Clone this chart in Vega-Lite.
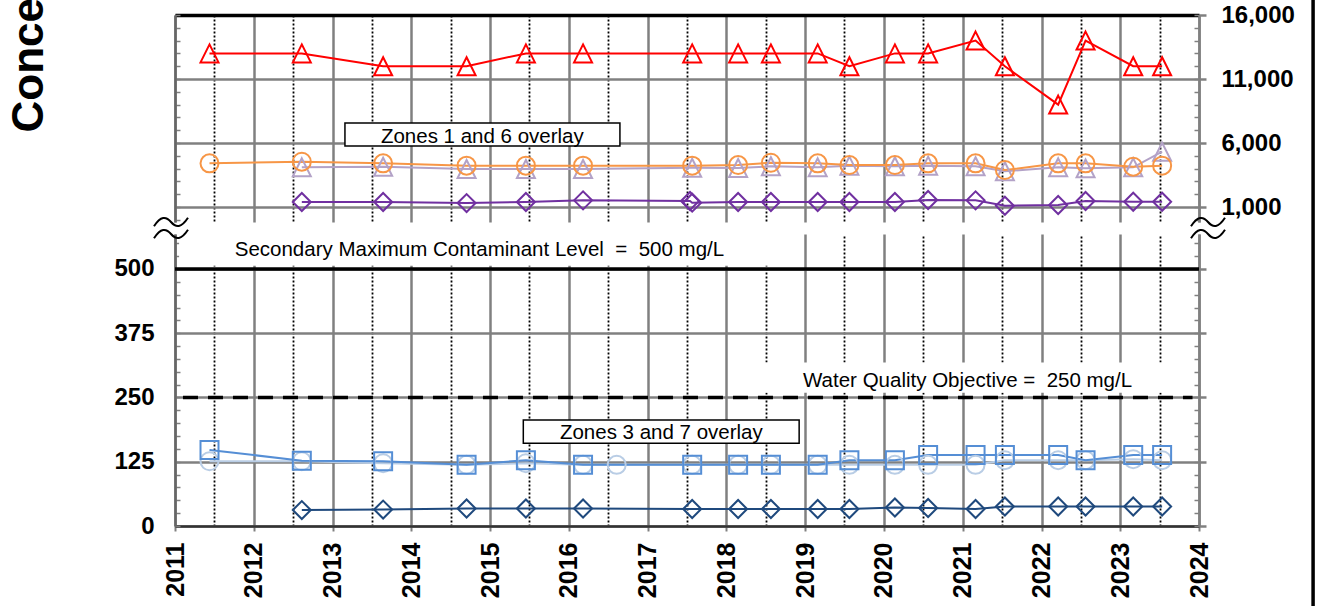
{
  "$schema": "https://vega.github.io/schema/vega-lite/v6.json",
  "autosize": {"type": "none"},
  "padding": {"left": 175, "top": 15, "right": 1144, "bottom": 591},
  "background": "white",
  "config": {
    "font": "Liberation Sans",
    "view": {"stroke": null},
    "axis": {"labelFont": "Liberation Sans", "titleFont": "Liberation Sans"}
  },
  "spacing": 12,
  "bounds": "flush",
  "resolve": {"scale": {"color": "independent", "shape": "independent"}},
  "datasets": {
    "upper": [
      {"date": "2012-08-11", "series": "Zone 6", "value": 4100},
      {"date": "2013-08-23", "series": "Zone 6", "value": 4150},
      {"date": "2014-09-14", "series": "Zone 6", "value": 3970},
      {"date": "2015-06-16", "series": "Zone 6", "value": 3970},
      {"date": "2016-03-07", "series": "Zone 6", "value": 3970},
      {"date": "2017-07-26", "series": "Zone 6", "value": 4070},
      {"date": "2018-02-24", "series": "Zone 6", "value": 4050},
      {"date": "2018-07-26", "series": "Zone 6", "value": 4180},
      {"date": "2019-02-28", "series": "Zone 6", "value": 4100},
      {"date": "2019-07-25", "series": "Zone 6", "value": 4230},
      {"date": "2020-02-21", "series": "Zone 6", "value": 4180},
      {"date": "2020-07-24", "series": "Zone 6", "value": 4230},
      {"date": "2021-03-01", "series": "Zone 6", "value": 4180},
      {"date": "2021-07-15", "series": "Zone 6", "value": 3790},
      {"date": "2022-03-19", "series": "Zone 6", "value": 4100},
      {"date": "2022-07-24", "series": "Zone 6", "value": 4020},
      {"date": "2023-03-02", "series": "Zone 6", "value": 4100},
      {"date": "2023-07-14", "series": "Zone 6", "value": 5320},
      {"date": "2011-06-10", "series": "Zone 1", "value": 4410},
      {"date": "2012-08-11", "series": "Zone 1", "value": 4540},
      {"date": "2013-08-23", "series": "Zone 1", "value": 4410},
      {"date": "2014-09-14", "series": "Zone 1", "value": 4230},
      {"date": "2015-06-16", "series": "Zone 1", "value": 4230},
      {"date": "2016-03-07", "series": "Zone 1", "value": 4230},
      {"date": "2017-07-26", "series": "Zone 1", "value": 4230},
      {"date": "2018-02-24", "series": "Zone 1", "value": 4280},
      {"date": "2018-07-26", "series": "Zone 1", "value": 4460},
      {"date": "2019-02-28", "series": "Zone 1", "value": 4410},
      {"date": "2019-07-25", "series": "Zone 1", "value": 4280},
      {"date": "2020-02-21", "series": "Zone 1", "value": 4280},
      {"date": "2020-07-24", "series": "Zone 1", "value": 4410},
      {"date": "2021-03-01", "series": "Zone 1", "value": 4410},
      {"date": "2021-07-15", "series": "Zone 1", "value": 3890},
      {"date": "2022-03-19", "series": "Zone 1", "value": 4410},
      {"date": "2022-07-24", "series": "Zone 1", "value": 4410},
      {"date": "2023-03-02", "series": "Zone 1", "value": 4150},
      {"date": "2023-07-14", "series": "Zone 1", "value": 4230},
      {"date": "2012-08-11", "series": "Zone 5", "value": 1390},
      {"date": "2013-08-23", "series": "Zone 5", "value": 1390},
      {"date": "2014-09-14", "series": "Zone 5", "value": 1310},
      {"date": "2015-06-16", "series": "Zone 5", "value": 1390},
      {"date": "2016-03-07", "series": "Zone 5", "value": 1520},
      {"date": "2017-07-16", "series": "Zone 5", "value": 1470},
      {"date": "2017-07-26", "series": "Zone 5", "value": 1340},
      {"date": "2018-02-24", "series": "Zone 5", "value": 1390},
      {"date": "2018-07-26", "series": "Zone 5", "value": 1390},
      {"date": "2019-02-28", "series": "Zone 5", "value": 1390},
      {"date": "2019-07-25", "series": "Zone 5", "value": 1390},
      {"date": "2020-02-21", "series": "Zone 5", "value": 1390},
      {"date": "2020-07-24", "series": "Zone 5", "value": 1550},
      {"date": "2021-03-01", "series": "Zone 5", "value": 1520},
      {"date": "2021-07-15", "series": "Zone 5", "value": 1100},
      {"date": "2022-03-19", "series": "Zone 5", "value": 1160},
      {"date": "2022-07-24", "series": "Zone 5", "value": 1470},
      {"date": "2023-03-02", "series": "Zone 5", "value": 1410},
      {"date": "2023-07-14", "series": "Zone 5", "value": 1410},
      {"date": "2011-06-10", "series": "Zone 2", "value": 13000},
      {"date": "2012-08-11", "series": "Zone 2", "value": 13000},
      {"date": "2013-08-23", "series": "Zone 2", "value": 12000},
      {"date": "2014-09-14", "series": "Zone 2", "value": 12000},
      {"date": "2015-06-16", "series": "Zone 2", "value": 13000},
      {"date": "2016-03-07", "series": "Zone 2", "value": 13000},
      {"date": "2017-07-26", "series": "Zone 2", "value": 13000},
      {"date": "2018-02-24", "series": "Zone 2", "value": 13000},
      {"date": "2018-07-26", "series": "Zone 2", "value": 13000},
      {"date": "2019-02-28", "series": "Zone 2", "value": 13000},
      {"date": "2019-07-25", "series": "Zone 2", "value": 12000},
      {"date": "2020-02-21", "series": "Zone 2", "value": 13000},
      {"date": "2020-07-24", "series": "Zone 2", "value": 13000},
      {"date": "2021-03-01", "series": "Zone 2", "value": 14000},
      {"date": "2021-07-15", "series": "Zone 2", "value": 12000},
      {"date": "2022-03-19", "series": "Zone 2", "value": 9000},
      {"date": "2022-07-24", "series": "Zone 2", "value": 14000},
      {"date": "2023-03-02", "series": "Zone 2", "value": 12000},
      {"date": "2023-07-14", "series": "Zone 2", "value": 12000}
    ],
    "lower": [
      {"date": "2011-06-10", "series": "Zone 7", "value": 126},
      {"date": "2012-08-11", "series": "Zone 7", "value": 126},
      {"date": "2013-08-23", "series": "Zone 7", "value": 122},
      {"date": "2014-09-14", "series": "Zone 7", "value": 119},
      {"date": "2015-06-16", "series": "Zone 7", "value": 122},
      {"date": "2016-03-07", "series": "Zone 7", "value": 119},
      {"date": "2016-08-10", "series": "Zone 7", "value": 119},
      {"date": "2017-07-26", "series": "Zone 7", "value": 119},
      {"date": "2018-02-24", "series": "Zone 7", "value": 119},
      {"date": "2018-07-26", "series": "Zone 7", "value": 119},
      {"date": "2019-02-28", "series": "Zone 7", "value": 119},
      {"date": "2019-07-25", "series": "Zone 7", "value": 119},
      {"date": "2020-02-21", "series": "Zone 7", "value": 119},
      {"date": "2020-07-24", "series": "Zone 7", "value": 119},
      {"date": "2021-03-01", "series": "Zone 7", "value": 119},
      {"date": "2021-07-15", "series": "Zone 7", "value": 128},
      {"date": "2022-03-19", "series": "Zone 7", "value": 128},
      {"date": "2022-07-24", "series": "Zone 7", "value": 128},
      {"date": "2023-03-02", "series": "Zone 7", "value": 130},
      {"date": "2023-07-14", "series": "Zone 7", "value": 128},
      {"date": "2011-06-10", "series": "Zone 3", "value": 148},
      {"date": "2012-08-11", "series": "Zone 3", "value": 127},
      {"date": "2013-08-23", "series": "Zone 3", "value": 126},
      {"date": "2014-09-14", "series": "Zone 3", "value": 119},
      {"date": "2015-06-16", "series": "Zone 3", "value": 128},
      {"date": "2016-03-07", "series": "Zone 3", "value": 119},
      {"date": "2017-07-26", "series": "Zone 3", "value": 119},
      {"date": "2018-02-24", "series": "Zone 3", "value": 119},
      {"date": "2018-07-26", "series": "Zone 3", "value": 119},
      {"date": "2019-02-28", "series": "Zone 3", "value": 119},
      {"date": "2019-07-25", "series": "Zone 3", "value": 128},
      {"date": "2020-02-21", "series": "Zone 3", "value": 128},
      {"date": "2020-07-24", "series": "Zone 3", "value": 138},
      {"date": "2021-03-01", "series": "Zone 3", "value": 138},
      {"date": "2021-07-15", "series": "Zone 3", "value": 138},
      {"date": "2022-03-19", "series": "Zone 3", "value": 138},
      {"date": "2022-07-24", "series": "Zone 3", "value": 128},
      {"date": "2023-03-02", "series": "Zone 3", "value": 138},
      {"date": "2023-07-14", "series": "Zone 3", "value": 138},
      {"date": "2012-08-11", "series": "Zone 4", "value": 31},
      {"date": "2013-08-23", "series": "Zone 4", "value": 32},
      {"date": "2014-09-14", "series": "Zone 4", "value": 34},
      {"date": "2015-06-16", "series": "Zone 4", "value": 34},
      {"date": "2016-03-07", "series": "Zone 4", "value": 34},
      {"date": "2017-07-26", "series": "Zone 4", "value": 33},
      {"date": "2018-02-24", "series": "Zone 4", "value": 33},
      {"date": "2018-07-26", "series": "Zone 4", "value": 33},
      {"date": "2019-02-28", "series": "Zone 4", "value": 33},
      {"date": "2019-07-25", "series": "Zone 4", "value": 33},
      {"date": "2020-02-21", "series": "Zone 4", "value": 36},
      {"date": "2020-07-24", "series": "Zone 4", "value": 35},
      {"date": "2021-03-01", "series": "Zone 4", "value": 33},
      {"date": "2021-07-15", "series": "Zone 4", "value": 38},
      {"date": "2022-03-19", "series": "Zone 4", "value": 38},
      {"date": "2022-07-24", "series": "Zone 4", "value": 38},
      {"date": "2023-03-02", "series": "Zone 4", "value": 38},
      {"date": "2023-07-14", "series": "Zone 4", "value": 38}
    ]
  },
  "vconcat": [
    {
      "width": 1024,
      "height": 207,
      "layer": [
        {
          "data": {"name": "upper"},
          "mark": {"type": "line", "strokeWidth": 2},
          "encoding": {
            "x": {"field": "date", "type": "temporal",
              "scale": {"domain": [{"year": 2011, "month": 1, "date": 1}, {"year": 2024, "month": 1, "date": 1}]},
              "axis": {"orient": "top", "values": [{"year": 2011}, {"year": 2012}, {"year": 2013}, {"year": 2014}, {"year": 2015}, {"year": 2016}, {"year": 2017}, {"year": 2018}, {"year": 2019}, {"year": 2020}, {"year": 2021}, {"year": 2022}, {"year": 2023}, {"year": 2024}],
                "grid": true, "gridColor": "#808080", "gridWidth": 2.5, "ticks": false, "labels": false, "domainColor": "black", "domainWidth": 3.5, "title": null}},
            "y": {"field": "value", "type": "quantitative",
              "scale": {"domain": [-170, 16000], "nice": false, "zero": false},
              "axis": {"orient": "left", "values": [0, 1000, 2000, 3000, 4000, 5000, 6000, 7000, 8000, 9000, 10000, 11000, 12000, 13000, 14000, 15000, 16000],
                "grid": false, "labels": false, "tickSize": -5, "tickColor": "#808080", "tickWidth": 1.5, "domainColor": "#666666", "domainWidth": 2.5,
                "title": "Concentration (mg/L)", "titleFontSize": 44, "titleFontWeight": "bold", "titleColor": "black", "titleAngle": 270, "titleAlign": "left", "titleBaseline": "alphabetic", "titleX": -133, "titleY": 117}},
            "color": {"field": "series", "type": "nominal", "scale": {"domain": ["Zone 6", "Zone 1", "Zone 5", "Zone 2"], "range": ["#B3A2C7", "#F79646", "#7030A0", "#FF0000"]}, "legend": null}
          }
        },
        {
          "data": {"name": "upper"},
          "mark": {"type": "point", "filled": false, "strokeWidth": 2, "size": 324, "opacity": 1},
          "encoding": {
            "x": {"field": "date", "type": "temporal",
              "scale": {"domain": [{"year": 2011, "month": 1, "date": 1}, {"year": 2024, "month": 1, "date": 1}]},
              "axis": {"orient": "bottom", "values": [{"year": 2011, "month": 7, "date": 2}, {"year": 2012, "month": 7, "date": 2}, {"year": 2013, "month": 7, "date": 2}, {"year": 2014, "month": 7, "date": 2}, {"year": 2015, "month": 7, "date": 2}, {"year": 2016, "month": 7, "date": 2}, {"year": 2017, "month": 7, "date": 2}, {"year": 2018, "month": 7, "date": 2}, {"year": 2019, "month": 7, "date": 2}, {"year": 2020, "month": 7, "date": 2}, {"year": 2021, "month": 7, "date": 2}, {"year": 2022, "month": 7, "date": 2}, {"year": 2023, "month": 7, "date": 2}],
                "grid": true, "gridColor": "black", "gridDash": [2, 2], "gridWidth": 1.8, "ticks": false, "labels": false, "domain": false, "title": null}},
            "y": {"field": "value", "type": "quantitative",
              "scale": {"domain": [-170, 16000], "nice": false, "zero": false},
              "axis": {"orient": "right", "values": [1000, 6000, 11000, 16000], "format": ",.0f",
                "grid": true, "gridColor": "#808080", "gridWidth": 2.5, "tickSize": 7, "tickColor": "#808080", "tickWidth": 2.5,
                "domainColor": "#808080", "domainWidth": 2.5, "labelFontSize": 24, "labelFontWeight": "bold", "labelColor": "black", "labelPadding": 15, "title": null}},
            "color": {"field": "series", "type": "nominal", "scale": {"domain": ["Zone 6", "Zone 1", "Zone 5", "Zone 2"], "range": ["#B3A2C7", "#F79646", "#7030A0", "#FF0000"]}, "legend": null},
            "shape": {"field": "series", "type": "nominal", "scale": {"domain": ["Zone 6", "Zone 1", "Zone 5", "Zone 2"], "range": ["M0,-1L1,1L-1,1Z", "circle", "diamond", "M0,-1L1,1L-1,1Z"]}, "legend": null}
          }
        },
        {
          "data": {"values": [{}]},
          "mark": {"type": "rect", "fill": "white", "stroke": "black", "strokeWidth": 1.5},
          "encoding": {
            "x": {"datum": {"year": 2013, "month": 2, "date": 27}, "type": "temporal", "scale": {"domain": [{"year": 2011, "month": 1, "date": 1}, {"year": 2024, "month": 1, "date": 1}]}, "axis": null},
            "x2": {"datum": {"year": 2016, "month": 8, "date": 25}},
            "y": {"datum": 7562, "type": "quantitative", "scale": {"domain": [-170, 16000], "nice": false, "zero": false},
              "axis": {"orient": "right", "values": [0, 1000, 2000, 3000, 4000, 5000, 6000, 7000, 8000, 9000, 10000, 11000, 12000, 13000, 14000, 15000, 16000],
                "tickSize": -5, "tickColor": "#808080", "tickWidth": 1.5, "labels": false, "domain": false, "grid": false, "title": null}},
            "y2": {"datum": 5766}
          }
        },
        {
          "data": {"values": [{}]},
          "mark": {"type": "text", "text": "Zones 1 and 6 overlay", "font": "Liberation Sans", "fontSize": 20.5, "align": "center", "baseline": "alphabetic", "color": "black"},
          "encoding": {
            "x": {"datum": {"year": 2014, "month": 11, "date": 26}, "type": "temporal", "scale": {"domain": [{"year": 2011, "month": 1, "date": 1}, {"year": 2024, "month": 1, "date": 1}]}, "axis": null},
            "y": {"datum": 6023, "type": "quantitative", "scale": {"domain": [-170, 16000], "nice": false, "zero": false}, "axis": null}
          }
        },
        {
          "data": {"values": [{}]},
          "mark": {"type": "point", "shape": "M-1,0.25C-0.6,-0.35,-0.3,-0.35,0,0C0.3,0.35,0.6,0.35,1,-0.25", "size": 1156, "filled": false, "stroke": "black", "strokeWidth": 2, "opacity": 1, "xOffset": -4},
          "encoding": {
            "x": {"datum": {"year": 2011, "month": 1, "date": 1}, "type": "temporal", "scale": {"domain": [{"year": 2011, "month": 1, "date": 1}, {"year": 2024, "month": 1, "date": 1}]}, "axis": null},
            "y": {"datum": -170, "type": "quantitative", "scale": {"domain": [-170, 16000], "nice": false, "zero": false}, "axis": null}
          }
        },
        {
          "data": {"values": [{}]},
          "mark": {"type": "point", "shape": "M-1,0.25C-0.6,-0.35,-0.3,-0.35,0,0C0.3,0.35,0.6,0.35,1,-0.25", "size": 1156, "filled": false, "stroke": "black", "strokeWidth": 2, "opacity": 1, "xOffset": 9},
          "encoding": {
            "x": {"datum": {"year": 2024, "month": 1, "date": 1}, "type": "temporal", "scale": {"domain": [{"year": 2011, "month": 1, "date": 1}, {"year": 2024, "month": 1, "date": 1}]}, "axis": null},
            "y": {"datum": -170, "type": "quantitative", "scale": {"domain": [-170, 16000], "nice": false, "zero": false}, "axis": null}
          }
        }
      ],
      "resolve": {"axis": {"x": "independent", "y": "independent"}}
    },
    {
      "width": 1024,
      "height": 292,
      "layer": [
        {
          "data": {"values": [{}]},
          "mark": {"type": "rect", "fill": "white"},
          "encoding": {
            "x": {"datum": {"year": 2011, "month": 1, "date": 20}, "type": "temporal", "scale": {"domain": [{"year": 2011, "month": 1, "date": 1}, {"year": 2024, "month": 1, "date": 1}]}, "axis": null},
            "x2": {"datum": {"year": 2018, "month": 9, "date": 5}},
            "y": {"datum": 506, "type": "quantitative", "scale": {"domain": [0, 568], "nice": false, "zero": false},
              "axis": {"orient": "left", "values": [0, 25, 50, 75, 100, 125, 150, 175, 200, 225, 250, 275, 300, 325, 350, 375, 400, 425, 450, 475, 500, 525, 550],
                "tickSize": -5, "tickColor": "#808080", "tickWidth": 1.5, "labels": false, "domain": false, "grid": false, "title": null}},
            "y2": {"datum": 568}
          }
        },
        {
          "data": {"values": [{}]},
          "mark": {"type": "rect", "fill": "white"},
          "encoding": {
            "x": {"datum": {"year": 2018, "month": 6, "date": 3}, "type": "temporal", "scale": {"domain": [{"year": 2011, "month": 1, "date": 1}, {"year": 2024, "month": 1, "date": 1}]}, "axis": null},
            "x2": {"datum": {"year": 2023, "month": 10, "date": 3}},
            "y": {"datum": 259, "type": "quantitative", "scale": {"domain": [0, 568], "nice": false, "zero": false},
              "axis": {"orient": "right", "values": [0, 25, 50, 75, 100, 125, 150, 175, 200, 225, 250, 275, 300, 325, 350, 375, 400, 425, 450, 475, 500, 525, 550],
                "tickSize": -5, "tickColor": "#808080", "tickWidth": 1.5, "labels": false, "domain": false, "grid": false, "title": null}},
            "y2": {"datum": 318}
          }
        },
        {
          "data": {"values": [{}]},
          "mark": {"type": "rule", "color": "black", "strokeWidth": 3.5},
          "encoding": {
            "y": {"datum": 500, "type": "quantitative", "scale": {"domain": [0, 568], "nice": false, "zero": false}, "axis": null}
          }
        },
        {
          "data": {"values": [{}]},
          "mark": {"type": "rule", "color": "black", "strokeWidth": 3.5, "strokeDash": [15, 10]},
          "encoding": {
            "x": {"datum": {"year": 2011, "month": 2, "date": 7}, "type": "temporal", "scale": {"domain": [{"year": 2011, "month": 1, "date": 1}, {"year": 2024, "month": 1, "date": 1}]}, "axis": null},
            "x2": {"datum": {"year": 2023, "month": 12, "date": 2}},
            "y": {"datum": 250, "type": "quantitative", "scale": {"domain": [0, 568], "nice": false, "zero": false}, "axis": null}
          }
        },
        {
          "data": {"values": [{}]},
          "mark": {"type": "text", "text": "Secondary Maximum Contaminant Level \u00a0=\u00a0 500 mg/L", "font": "Liberation Sans", "fontSize": 20.5, "align": "left", "baseline": "alphabetic", "color": "black"},
          "encoding": {
            "x": {"datum": {"year": 2011, "month": 10, "date": 5}, "type": "temporal", "scale": {"domain": [{"year": 2011, "month": 1, "date": 1}, {"year": 2024, "month": 1, "date": 1}]}, "axis": null},
            "y": {"datum": 526, "type": "quantitative", "scale": {"domain": [0, 568], "nice": false, "zero": false}, "axis": null}
          }
        },
        {
          "data": {"values": [{}]},
          "mark": {"type": "text", "text": "Water Quality Objective =\u00a0 250 mg/L", "font": "Liberation Sans", "fontSize": 20.5, "align": "left", "baseline": "alphabetic", "color": "black"},
          "encoding": {
            "x": {"datum": {"year": 2018, "month": 12, "date": 22}, "type": "temporal", "scale": {"domain": [{"year": 2011, "month": 1, "date": 1}, {"year": 2024, "month": 1, "date": 1}]}, "axis": null},
            "y": {"datum": 271, "type": "quantitative", "scale": {"domain": [0, 568], "nice": false, "zero": false}, "axis": null}
          }
        },
        {
          "data": {"values": [{}]},
          "mark": {"type": "rect", "fill": "white", "stroke": "black", "strokeWidth": 1.5},
          "encoding": {
            "x": {"datum": {"year": 2015, "month": 6, "date": 4}, "type": "temporal", "scale": {"domain": [{"year": 2011, "month": 1, "date": 1}, {"year": 2024, "month": 1, "date": 1}]}, "axis": null},
            "x2": {"datum": {"year": 2018, "month": 12, "date": 4}},
            "y": {"datum": 206, "type": "quantitative", "scale": {"domain": [0, 568], "nice": false, "zero": false}, "axis": null},
            "y2": {"datum": 161}
          }
        },
        {
          "data": {"values": [{}]},
          "mark": {"type": "text", "text": "Zones 3 and 7 overlay", "font": "Liberation Sans", "fontSize": 20.5, "align": "center", "baseline": "alphabetic", "color": "black"},
          "encoding": {
            "x": {"datum": {"year": 2017, "month": 3, "date": 5}, "type": "temporal", "scale": {"domain": [{"year": 2011, "month": 1, "date": 1}, {"year": 2024, "month": 1, "date": 1}]}, "axis": null},
            "y": {"datum": 168.7, "type": "quantitative", "scale": {"domain": [0, 568], "nice": false, "zero": false}, "axis": null}
          }
        },
        {
          "data": {"name": "lower"},
          "mark": {"type": "line", "strokeWidth": 2},
          "encoding": {
            "x": {"field": "date", "type": "temporal",
              "scale": {"domain": [{"year": 2011, "month": 1, "date": 1}, {"year": 2024, "month": 1, "date": 1}]},
              "axis": {"orient": "bottom", "values": [{"year": 2011}, {"year": 2012}, {"year": 2013}, {"year": 2014}, {"year": 2015}, {"year": 2016}, {"year": 2017}, {"year": 2018}, {"year": 2019}, {"year": 2020}, {"year": 2021}, {"year": 2022}, {"year": 2023}, {"year": 2024}],
                "format": "%Y", "labelAngle": 270, "labelFontSize": 25, "labelFontWeight": "bold", "labelColor": "black", "labelPadding": 11, "labelFlush": false, "labelOverlap": false,
                "tickSize": 5, "tickColor": "#808080", "tickWidth": 2, "domainColor": "#333333", "domainWidth": 2.5,
                "grid": true, "gridColor": "#808080", "gridWidth": 2.5, "title": null}},
            "y": {"field": "value", "type": "quantitative",
              "scale": {"domain": [0, 568], "nice": false, "zero": false},
              "axis": {"orient": "left", "values": [0, 125, 250, 375, 500], "ticks": false, "tickSize": 0, "labelFontSize": 24, "labelFontWeight": "bold", "labelColor": "black", "labelPadding": 21,
                "domainColor": "#666666", "domainWidth": 2.5, "grid": true, "gridColor": "#808080", "gridWidth": 2.5, "title": null}},
            "color": {"field": "series", "type": "nominal", "scale": {"domain": ["Zone 7", "Zone 3", "Zone 4"], "range": ["#B9CDE5", "#558ED5", "#1F497D"]}, "legend": null}
          }
        },
        {
          "data": {"name": "lower"},
          "mark": {"type": "point", "filled": false, "strokeWidth": 2, "size": 324, "opacity": 1},
          "encoding": {
            "x": {"field": "date", "type": "temporal",
              "scale": {"domain": [{"year": 2011, "month": 1, "date": 1}, {"year": 2024, "month": 1, "date": 1}]},
              "axis": {"orient": "top", "values": [{"year": 2011, "month": 7, "date": 2}, {"year": 2012, "month": 7, "date": 2}, {"year": 2013, "month": 7, "date": 2}, {"year": 2014, "month": 7, "date": 2}, {"year": 2015, "month": 7, "date": 2}, {"year": 2016, "month": 7, "date": 2}, {"year": 2017, "month": 7, "date": 2}, {"year": 2018, "month": 7, "date": 2}, {"year": 2019, "month": 7, "date": 2}, {"year": 2020, "month": 7, "date": 2}, {"year": 2021, "month": 7, "date": 2}, {"year": 2022, "month": 7, "date": 2}, {"year": 2023, "month": 7, "date": 2}],
                "grid": true, "gridColor": "black", "gridDash": [2, 2], "gridWidth": 1.8, "ticks": false, "labels": false, "domain": false, "title": null}},
            "y": {"field": "value", "type": "quantitative",
              "scale": {"domain": [0, 568], "nice": false, "zero": false},
              "axis": {"orient": "right", "values": [0, 125, 250, 375, 500], "labels": false, "tickSize": 7, "tickColor": "#808080", "tickWidth": 2.5,
                "domainColor": "#808080", "domainWidth": 2.5, "grid": false, "title": null}},
            "color": {"field": "series", "type": "nominal", "scale": {"domain": ["Zone 7", "Zone 3", "Zone 4"], "range": ["#B9CDE5", "#558ED5", "#1F497D"]}, "legend": null},
            "shape": {"field": "series", "type": "nominal", "scale": {"domain": ["Zone 7", "Zone 3", "Zone 4"], "range": ["circle", "square", "diamond"]}, "legend": null}
          }
        },
        {
          "data": {"values": [{}]},
          "mark": {"type": "point", "shape": "M-1,0.25C-0.6,-0.35,-0.3,-0.35,0,0C0.3,0.35,0.6,0.35,1,-0.25", "size": 1156, "filled": false, "stroke": "black", "strokeWidth": 2, "opacity": 1, "xOffset": -4},
          "encoding": {
            "x": {"datum": {"year": 2011, "month": 1, "date": 1}, "type": "temporal", "scale": {"domain": [{"year": 2011, "month": 1, "date": 1}, {"year": 2024, "month": 1, "date": 1}]}, "axis": null},
            "y": {"datum": 568, "type": "quantitative", "scale": {"domain": [0, 568], "nice": false, "zero": false}, "axis": null}
          }
        },
        {
          "data": {"values": [{}]},
          "mark": {"type": "point", "shape": "M-1,0.25C-0.6,-0.35,-0.3,-0.35,0,0C0.3,0.35,0.6,0.35,1,-0.25", "size": 1156, "filled": false, "stroke": "black", "strokeWidth": 2, "opacity": 1, "xOffset": 9},
          "encoding": {
            "x": {"datum": {"year": 2024, "month": 1, "date": 1}, "type": "temporal", "scale": {"domain": [{"year": 2011, "month": 1, "date": 1}, {"year": 2024, "month": 1, "date": 1}]}, "axis": null},
            "y": {"datum": 568, "type": "quantitative", "scale": {"domain": [0, 568], "nice": false, "zero": false}, "axis": null}
          }
        },
        {
          "data": {"values": [{}]},
          "mark": {"type": "rule", "color": "black", "strokeWidth": 3.5},
          "encoding": {
            "x": {"datum": {"year": 2025, "month": 6, "date": 13}, "type": "temporal", "scale": {"domain": [{"year": 2011, "month": 1, "date": 1}, {"year": 2024, "month": 1, "date": 1}]}, "axis": null},
            "y": {"datum": -160, "type": "quantitative", "scale": {"domain": [0, 568], "nice": false, "zero": false}, "axis": null},
            "y2": {"datum": 1170}
          }
        }
      ],
      "resolve": {"axis": {"x": "independent", "y": "independent"}}
    }
  ]
}
